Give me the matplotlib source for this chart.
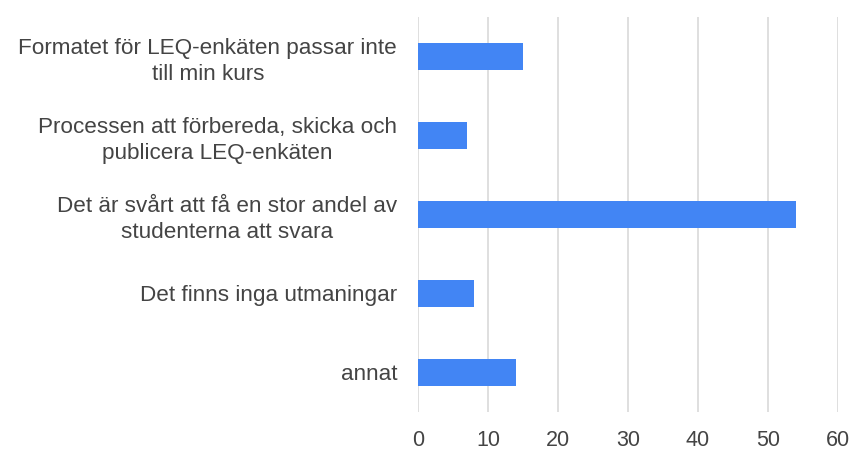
import matplotlib.pyplot as plt

# data
categories = [
    "Formatet för LEQ-enkäten passar inte\ntill min kurs",
    "Processen att förbereda, skicka och\npublicera LEQ-enkäten",
    "Det är svårt att få en stor andel av\nstudenterna att svara",
    "Det finns inga utmaningar",
    "annat",
]
values = [15, 7, 54, 8, 14]
xticks = [0, 10, 20, 30, 40, 50, 60]

plt.rcParams['font.family'] = ['Liberation Sans', 'DejaVu Sans']

fig = plt.figure(figsize=(8.52, 4.5), dpi=100)
ax = fig.add_axes([418 / 852, 1 - 412 / 450, 420 / 852, 395 / 450])

ypos = list(range(len(categories)))
ax.barh(ypos, values, height=0.35, color='#4285f4', zorder=3)
ax.set_ylim(len(categories) - 0.5, -0.5)
ax.set_yticks(ypos)
ax.set_yticklabels(categories, fontsize=16.2, color='#444444', linespacing=1.3)
for lbl in ax.get_yticklabels():
    lbl.set_multialignment('center')

ax.set_xlim(0, 60)
ax.set_xticks(xticks)
ax.set_xticklabels([str(t) for t in xticks], fontsize=15.5, color='#444444')
ax.grid(axis='x', color='#d9d9d9', linewidth=1.2, zorder=0)

for s in ax.spines.values():
    s.set_visible(False)
ax.tick_params(axis='both', length=0)
ax.tick_params(axis='y', pad=15)
ax.tick_params(axis='x', pad=13)

fig.savefig('out.png', dpi=100)
